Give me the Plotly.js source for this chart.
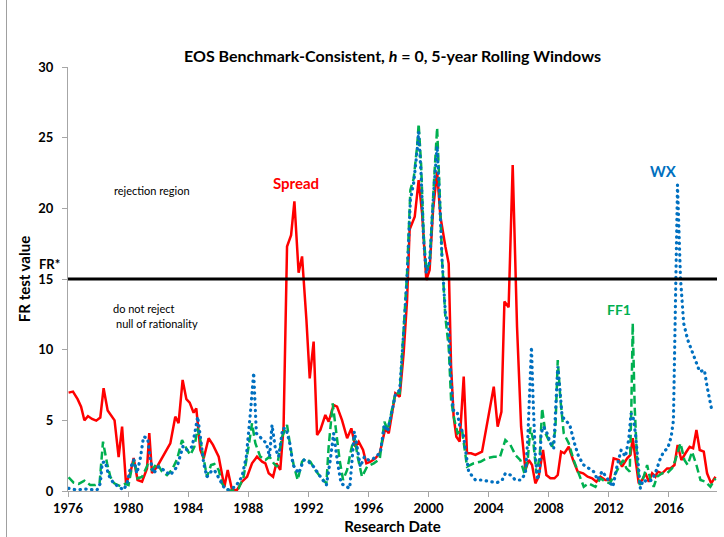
<!DOCTYPE html>
<html>
<head>
<meta charset="utf-8">
<script src="https://cdn.plot.ly/plotly-3.0.1.min.js"></script>
<style>
  html, body { margin: 0; padding: 0; background: #ffffff; }
  #wrap { position: relative; width: 724px; height: 537px; }
  #chart { width: 724px; height: 537px; }
  #frame-edge { position: absolute; left: 6px; top: 0; width: 1px; height: 537px; background: #A0A0A0; pointer-events: none; z-index: 10; }
</style>
</head>
<body>
<div id="wrap">
  <div id="chart"></div>
  <div id="frame-edge"></div>
</div>
<script>
// FR test statistics, 5-year rolling windows, by research date (decimal years)
const spreadDates = [
  1976.04, 1976.33, 1976.64, 1976.87, 1977.09, 1977.33, 1977.60, 1977.88, 1978.15, 1978.37,
  1978.64, 1979.10, 1979.37, 1979.60, 1979.86, 1980.15, 1980.37, 1980.63, 1980.93, 1981.26,
  1981.41, 1981.59, 1981.93, 1982.36, 1982.81, 1983.14, 1983.36, 1983.63, 1983.88, 1984.10,
  1984.36, 1984.54, 1984.81, 1985.03, 1985.36, 1985.65, 1986.03, 1986.41, 1986.63, 1986.92,
  1987.25, 1987.58, 1987.92, 1988.25, 1988.58, 1988.92, 1989.14, 1989.36, 1989.65, 1989.87,
  1990.13, 1990.35, 1990.58, 1990.85, 1991.07, 1991.35, 1991.58, 1991.87, 1992.09, 1992.35,
  1992.58, 1992.80, 1993.13, 1993.35, 1993.68, 1993.91, 1994.24, 1994.58, 1994.86, 1995.13,
  1995.35, 1995.64, 1995.86, 1996.13, 1996.46, 1996.75, 1997.12, 1997.35, 1997.79, 1998.08,
  1998.34, 1998.57, 1998.74, 1999.08, 1999.34, 1999.57, 1999.85, 2000.07, 2000.30, 2000.57,
  2000.79, 2001.12, 2001.34, 2001.50, 2001.67, 2001.85, 2002.07, 2002.34, 2002.56, 2002.83,
  2003.12, 2003.56, 2003.85, 2004.34, 2004.60, 2004.85, 2005.05, 2005.33, 2005.60, 2005.89,
  2006.16, 2006.45, 2006.67, 2006.89, 2007.11, 2007.33, 2007.62, 2007.84, 2008.11, 2008.38,
  2008.60, 2008.82, 2009.04, 2009.33, 2009.62, 2009.93, 2010.29, 2010.59, 2010.89, 2011.17,
  2011.44, 2011.77, 2012.06, 2012.32, 2012.66, 2012.88, 2013.22, 2013.44, 2013.59, 2013.77,
  2013.99, 2014.22, 2014.44, 2014.66, 2014.88, 2015.10, 2015.25, 2015.55, 2015.88, 2016.10,
  2016.37, 2016.58, 2016.83, 2017.10, 2017.38, 2017.61, 2017.83, 2018.05, 2018.32, 2018.54,
  2018.81, 2019.10
];
const spreadFR = [
  6.96, 7.03, 6.5, 5.97, 5.0, 5.3, 5.1, 4.98, 5.2, 7.27,
  5.7, 5.0, 2.4, 4.55, 0.54, 1.27, 2.33, 0.78, 0.66, 1.6,
  4.1, 1.27, 1.72, 2.55, 3.37, 5.26, 4.8, 7.86, 6.5, 6.25,
  5.54, 5.85, 2.9, 2.3, 3.73, 3.26, 2.43, 0.3, 1.49, 0.07,
  0.07, 0.66, 1.01, 1.96, 2.43, 2.07, 1.96, 1.25, 1.01, 1.96,
  1.49, 4.55, 17.3, 18.1, 20.5, 15.45, 16.6, 12.1, 7.97, 10.57,
  3.96, 4.32, 5.38, 4.9, 6.09, 5.97, 5.02, 3.73, 4.43, 3.13,
  3.49, 2.9, 1.96, 2.07, 2.31, 2.67, 4.43, 4.08, 6.91, 6.67,
  9.74, 13.5, 18.5, 19.4, 22.0, 19.65, 14.93, 15.64, 19.9, 22.6,
  19.4, 17.3, 16.1, 8.8, 5.26, 3.84, 3.49, 8.09, 2.67, 2.67,
  2.55, 2.78, 4.55, 7.38, 4.55, 5.6, 13.4, 13.0, 23.07, 11.6,
  4.55, 1.49, 2.19, 1.84, 0.54, 1.01, 2.9, 1.13, 0.9, 0.9,
  1.13, 2.78, 2.67, 3.13, 2.19, 1.37, 1.25, 1.01, 0.9, 0.66,
  1.01, 0.78, 0.78, 2.31, 2.19, 1.72, 2.31, 2.55, 3.73, 2.43,
  0.54, 0.78, 1.25, 0.66, 1.25, 1.01, 1.37, 1.25, 1.6, 1.6,
  1.84, 3.26, 2.19, 2.67, 3.13, 3.02, 4.32, 2.9, 2.78, 1.25,
  0.54, 1.01
];

const ff1Dates = [
  1976.04, 1976.37, 1976.71, 1977.09, 1977.48, 1977.82, 1978.10, 1978.33, 1978.60, 1978.82,
  1979.08, 1979.48, 1979.81, 1980.03, 1980.26, 1980.41, 1980.63, 1980.93, 1981.30, 1981.59,
  1981.93, 1982.26, 1982.59, 1982.92, 1983.26, 1983.59, 1983.81, 1984.14, 1984.41, 1984.63,
  1984.81, 1985.03, 1985.25, 1985.52, 1985.74, 1986.03, 1986.25, 1986.47, 1986.92, 1987.36,
  1987.69, 1988.02, 1988.25, 1988.47, 1988.80, 1989.14, 1989.42, 1989.69, 1989.91, 1990.25,
  1990.58, 1990.80, 1991.02, 1991.29, 1991.58, 1991.80, 1992.13, 1992.46, 1992.80, 1993.20,
  1993.35, 1993.62, 1993.86, 1994.08, 1994.31, 1994.58, 1994.84, 1995.06, 1995.28, 1995.57,
  1995.91, 1996.35, 1996.75, 1997.06, 1997.28, 1997.79, 1998.08, 1998.34, 1998.57, 1998.79,
  1999.01, 1999.24, 1999.34, 1999.50, 1999.67, 1999.85, 2000.07, 2000.34, 2000.57, 2000.74,
  2000.90, 2001.12, 2001.34, 2001.50, 2001.72, 2001.94, 2002.23, 2002.56, 2003.01, 2003.45,
  2003.85, 2004.34, 2004.75, 2005.11, 2005.45, 2005.78, 2006.11, 2006.38, 2006.60, 2006.78,
  2006.96, 2007.18, 2007.40, 2007.56, 2007.78, 2008.00, 2008.22, 2008.44, 2008.60, 2008.78,
  2009.00, 2009.33, 2009.66, 2009.99, 2010.33, 2010.66, 2011.11, 2011.44, 2011.77, 2012.06,
  2012.37, 2012.66, 2012.95, 2013.17, 2013.39, 2013.50, 2013.59, 2013.72, 2013.88, 2014.06,
  2014.32, 2014.55, 2014.77, 2014.99, 2015.21, 2015.55, 2015.88, 2016.21, 2016.43, 2016.77,
  2017.03, 2017.25, 2017.54, 2017.83, 2018.10, 2018.43, 2018.76, 2019.10
];
const ff1FR = [
  0.97, 0.59, 0.5, 0.73, 0.42, 0.42, 0.54, 3.49, 1.96, 1.0,
  0.54, 0.35, 0.5, 0.42, 1.72, 2.2, 0.9, 1.0, 1.84, 1.49,
  1.96, 1.37, 1.13, 1.49, 2.24, 3.6, 3.13, 2.55, 3.13, 4.43,
  3.6, 2.43, 1.0, 1.84, 1.91, 1.49, 0.54, 0.15, 0.0, 0.19,
  1.01, 3.13, 4.79, 3.38, 2.43, 2.19, 2.43, 1.96, 1.72, 3.84,
  4.67, 3.13, 1.84, 0.78, 2.07, 2.31, 2.07, 1.49, 1.01, 0.54,
  3.13, 6.2, 4.08, 2.19, 0.78, 1.49, 2.9, 3.84, 2.43, 1.01,
  1.72, 1.96, 2.25, 4.9, 4.32, 6.91, 6.91, 11.16, 15.4, 21.3,
  22.1, 24.4, 25.97, 23.2, 18.2, 15.64, 16.1, 21.5, 25.7, 21.1,
  16.35, 12.3, 10.2, 6.44, 5.02, 4.08, 4.32, 1.72, 1.96, 2.07,
  2.31, 2.43, 2.4, 3.6, 3.26, 2.55, 2.19, 1.25, 2.19, 4.5,
  3.6, 1.25, 2.43, 5.85, 4.08, 3.6, 3.13, 4.32, 9.27, 6.44,
  4.08, 3.38, 2.19, 1.25, 0.3, 0.54, 0.3, 0.9, 0.66, 0.54,
  1.13, 1.6, 2.19, 1.6, 1.37, 5.97, 11.87, 5.97, 2.19, 0.42,
  1.01, 1.84, 0.78, 0.3, 1.01, 1.25, 1.25, 1.6, 2.19, 3.38,
  2.19, 1.84, 2.78, 1.84, 0.78, 0.66, 0.3, 0.9
];

const wxDates = [
  1976.04, 1976.60, 1977.04, 1977.53, 1977.93, 1978.15, 1978.28, 1978.48, 1978.70, 1979.04,
  1979.37, 1979.70, 1979.93, 1980.15, 1980.37, 1980.59, 1980.81, 1981.03, 1981.30, 1981.48,
  1981.70, 1982.03, 1982.36, 1982.81, 1983.26, 1983.66, 1983.92, 1984.26, 1984.48, 1984.63,
  1984.81, 1985.03, 1985.25, 1985.52, 1985.74, 1986.03, 1986.36, 1986.59, 1987.14, 1987.58,
  1987.87, 1988.14, 1988.36, 1988.54, 1988.85, 1989.20, 1989.42, 1989.58, 1989.80, 1990.02,
  1990.29, 1990.51, 1990.76, 1990.98, 1991.35, 1991.69, 1992.02, 1992.35, 1992.80, 1993.20,
  1993.46, 1993.68, 1993.95, 1994.18, 1994.46, 1994.75, 1994.91, 1995.06, 1995.24, 1995.46,
  1995.73, 1996.01, 1996.35, 1996.79, 1997.06, 1997.28, 1997.79, 1998.08, 1998.34, 1998.57,
  1998.79, 1999.01, 1999.24, 1999.34, 1999.50, 1999.67, 1999.85, 2000.07, 2000.34, 2000.57,
  2000.74, 2000.90, 2001.12, 2001.34, 2001.45, 2001.63, 2001.90, 2002.07, 2002.30, 2002.52,
  2002.67, 2003.12, 2003.56, 2004.12, 2004.56, 2004.90, 2005.11, 2005.45, 2005.78, 2006.16,
  2006.45, 2006.60, 2006.73, 2006.85, 2006.96, 2007.11, 2007.26, 2007.40, 2007.49, 2007.66,
  2007.89, 2008.11, 2008.33, 2008.44, 2008.60, 2008.73, 2008.89, 2009.11, 2009.40, 2009.71,
  2009.99, 2010.33, 2010.66, 2010.99, 2011.26, 2011.55, 2011.89, 2012.27, 2012.55, 2012.82,
  2013.10, 2013.32, 2013.48, 2013.61, 2013.77, 2013.92, 2014.10, 2014.28, 2014.55, 2014.88,
  2015.17, 2015.39, 2015.65, 2015.92, 2016.15, 2016.30, 2016.57, 2016.77, 2016.98, 2017.25,
  2017.65, 2018.05, 2018.36, 2018.54, 2018.83
];
const wxFR = [
  0.19, 0.07, 0.14, 0.07, 0.07, 0.54, 2.0, 2.08, 1.13, 0.54,
  0.3, 0.07, 0.54, 1.6, 2.2, 1.25, 2.3, 3.84, 3.73, 2.2,
  1.25, 1.72, 1.49, 1.13, 1.72, 3.18, 2.9, 3.13, 4.32, 5.26,
  3.84, 1.96, 1.0, 1.37, 1.49, 0.9, 0.3, 0.07, 0.3, 1.01,
  2.43, 5.5, 8.37, 4.08, 3.73, 3.38, 2.43, 4.67, 3.02, 2.43,
  4.43, 4.43, 3.38, 1.84, 1.25, 2.19, 2.07, 1.72, 1.01, 0.42,
  2.19, 4.08, 1.96, 0.54, 0.35, 0.19, 2.19, 4.2, 3.13, 1.72,
  2.43, 2.19, 2.31, 2.7, 4.67, 4.2, 6.79, 7.15, 11.16, 15.17,
  20.6, 21.8, 24.1, 25.4, 22.5, 17.8, 15.4, 16.2, 21.1, 24.4,
  20.6, 16.35, 12.6, 11.6, 8.8, 5.73, 5.61, 4.67, 4.08, 2.31,
  1.37, 0.78, 0.78, 0.66, 0.59, 0.78, 1.25, 1.13, 0.78, 0.78,
  1.25, 3.6, 6.44, 10.2, 6.44, 2.43, 0.78, 1.49, 4.08, 4.55,
  4.08, 3.38, 3.02, 5.5, 8.8, 7.38, 5.26, 5.02, 4.67, 3.38,
  2.43, 1.84, 1.6, 1.37, 0.78, 1.4, 0.9, 0.3, 1.78, 2.9,
  2.43, 3.6, 5.5, 5.26, 4.08, 2.19, 0.19, 0.78, 0.66, 0.78,
  1.49, 2.19, 2.78, 3.02, 3.84, 5.0, 21.65, 15.05, 11.87, 10.7,
  9.5, 8.44, 8.56, 7.38, 5.85
];

// Critical value of the FR statistic
const FR_STAR = 15;

// Axis tick labels
const yearTicks = [1976, 1980, 1984, 1988, 1992, 1996, 2000, 2004, 2008, 2012, 2016];
const yTicks = [0, 5, 10, 15, 20, 25, 30];

const FONT = 'Lato, "Open Sans", sans-serif';
const RED = '#FF0000', GREEN = '#00B050', BLUE = '#0070C0';
const AXIS_GREY = '#A6A6A6';

const traces = [
  {
    name: 'Spread', x: spreadDates, y: spreadFR, type: 'scatter', mode: 'lines',
    line: { color: RED, width: 2.5 }, hoverinfo: 'x+y'
  },
  {
    name: 'FF1', x: ff1Dates, y: ff1FR, type: 'scatter', mode: 'lines',
    line: { color: GREEN, width: 2.5, dash: '8px,4px' }, hoverinfo: 'x+y'
  },
  {
    name: 'WX', x: wxDates, y: wxFR, type: 'scatter', mode: 'lines',
    line: { color: BLUE, width: 3.2, dash: 'dot' }, hoverinfo: 'x+y'
  }
];

const layout = {
  width: 724,
  height: 537,
  margin: { l: 68, r: 7, t: 67, b: 46 },
  paper_bgcolor: '#FFFFFF',
  plot_bgcolor: '#FFFFFF',
  showlegend: false,
  font: { family: FONT, color: '#000000' },
  title: {
    text: 'EOS Benchmark-Consistent, <i>h</i> = 0, 5-year Rolling Windows',
    font: { family: FONT, size: 16, weight: 'bold', color: '#000000' },
    x: 0.5, xref: 'paper', xanchor: 'center',
    y: 1 - 56 / 537, yref: 'container', yanchor: 'middle'
  },
  xaxis: {
    range: [1976, 2019.2],
    tickmode: 'array',
    tickvals: yearTicks,
    ticktext: yearTicks.map(String),
    showgrid: false, zeroline: false,
    showline: true, linecolor: AXIS_GREY, linewidth: 1,
    ticks: 'outside', ticklen: 5, tickcolor: AXIS_GREY,
    tickfont: { family: FONT, size: 13, weight: 'bold', color: '#000000' },
    title: {
      text: 'Research Date',
      font: { family: FONT, size: 15, weight: 'bold', color: '#000000' },
      standoff: 6
    },
    fixedrange: true
  },
  yaxis: {
    range: [0, 30],
    tickmode: 'array',
    tickvals: yTicks,
    ticktext: yTicks.map(String),
    showgrid: false, zeroline: false,
    showline: true, linecolor: AXIS_GREY, linewidth: 1,
    ticks: 'outside', ticklen: 5, tickcolor: AXIS_GREY,
    ticklabelstandoff: 6,
    tickfont: { family: FONT, size: 13, weight: 'bold', color: '#000000' },
    title: {
      text: 'FR test value',
      font: { family: FONT, size: 15, weight: 'bold', color: '#000000' },
      standoff: 4
    },
    fixedrange: true
  },
  shapes: [
    // FR* critical-value line
    {
      type: 'line', xref: 'paper', yref: 'y',
      x0: 0, x1: 1, y0: FR_STAR, y1: FR_STAR,
      line: { color: '#000000', width: 3 }
    }
  ],
  annotations: [
    {
      text: 'FR*', xref: 'paper', yref: 'y', x: -0.009, y: FR_STAR + 1.05,
      xanchor: 'right', yanchor: 'middle', showarrow: false,
      font: { family: FONT, size: 13, weight: 'bold', color: '#000000' }
    },
    {
      text: 'rejection region', xref: 'x', yref: 'y', x: 1981.6, y: 21.23,
      xanchor: 'center', yanchor: 'middle', showarrow: false,
      font: { family: FONT, size: 11, color: '#000000' }
    },
    {
      text: 'do not reject', xref: 'x', yref: 'y', x: 1978.89, y: 12.88,
      xanchor: 'left', yanchor: 'middle', showarrow: false,
      font: { family: FONT, size: 11, color: '#000000' }
    },
    {
      text: 'null of rationality', xref: 'x', yref: 'y', x: 1979.09, y: 11.82,
      xanchor: 'left', yanchor: 'middle', showarrow: false,
      font: { family: FONT, size: 11, color: '#000000' }
    },
    {
      text: 'Spread', xref: 'x', yref: 'y', x: 1991.2, y: 21.8,
      xanchor: 'center', yanchor: 'middle', showarrow: false,
      font: { family: FONT, size: 15, weight: 'bold', color: RED }
    },
    {
      text: 'WX', xref: 'x', yref: 'y', x: 2015.63, y: 22.65,
      xanchor: 'center', yanchor: 'middle', showarrow: false,
      font: { family: FONT, size: 15, weight: 'bold', color: BLUE }
    },
    {
      text: 'FF1', xref: 'x', yref: 'y', x: 2012.7, y: 12.81,
      xanchor: 'center', yanchor: 'middle', showarrow: false,
      font: { family: FONT, size: 14, weight: 'bold', color: GREEN }
    }
  ]
};

Plotly.newPlot('chart', traces, layout, { displayModeBar: false, staticPlot: true }).then(function (gd) {
  // give the WX series round dots
  const lines = gd.querySelectorAll('.scatterlayer .trace');
  if (lines.length >= 3) {
    const p = lines[2].querySelector('path.js-line');
    if (p) {
      p.style.strokeLinecap = 'round';
      p.style.strokeDasharray = '0.4px,5.4px';
    }
  }
});
</script>
</body>
</html>
